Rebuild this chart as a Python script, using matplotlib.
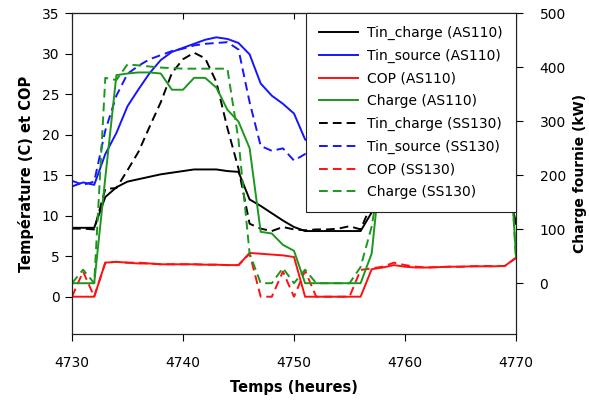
import matplotlib
matplotlib.use('Agg')
import matplotlib.pyplot as plt
import numpy as np

# hourly data, 4730 -> 4770
hours = np.arange(4730, 4771)

tin_charge_as110 = [8.5, 8.5, 8.5, 12.3, 13.5, 14.2, 14.5, 14.8, 15.1, 15.3,
                    15.5, 15.7, 15.7, 15.7, 15.5, 15.4, 12.0, 11.2, 10.3, 9.4,
                    8.6, 8.1, 8.1, 8.1, 8.1, 8.1, 8.1, 10.4, 12.8, 13.8,
                    14.3, 14.7, 15.0, 15.2, 15.4, 15.5, 15.6, 15.6, 15.5, 15.3,
                    9.0]
tin_source_as110 = [13.6, 14.1, 13.8, 17.6, 20.2, 23.5, 25.6, 27.6, 29.2, 30.2,
                    30.7, 31.2, 31.7, 32.0, 31.8, 31.3, 29.9, 26.3, 24.8, 23.8,
                    22.6, 19.4, 18.6, 18.2, 17.9, 17.7, 17.6, 19.0, 22.5, 25.5,
                    27.8, 29.5, 30.5, 31.2, 31.6, 31.8, 31.5, 30.5, 28.5, 26.5,
                    25.6]
cop_as110 = [0, 0, 0, 4.2, 4.3, 4.2, 4.1, 4.1, 4.0, 4.0,
             4.0, 4.0, 3.95, 3.95, 3.9, 3.9, 5.4, 5.3, 5.2, 5.1,
             4.9, 0, 0, 0, 0, 0, 0, 3.4, 3.6, 3.9,
             3.7, 3.6, 3.6, 3.65, 3.7, 3.7, 3.75, 3.75, 3.75, 3.8,
             4.8]
charge_as110 = [0, 0, 0, 195, 385, 388, 390, 390, 388, 358,
                358, 380, 380, 362, 321, 299, 250, 95, 92, 71,
                60, 0, 0, 0, 0, 0, 0, 55, 255, 380,
                390, 392, 392, 392, 390, 390, 390, 388, 388, 388,
                50]

tin_charge_ss130 = [8.4, 8.4, 8.3, 13.3, 13.4, 15.6, 17.9, 21.0, 24.0, 27.6,
                    29.3, 30.1, 29.4, 26.5, 20.8, 15.8, 9.0, 8.4, 8.1, 8.6,
                    8.3, 8.2, 8.3, 8.3, 8.4, 8.7, 8.3, 11.5, 13.5, 14.5,
                    17.5, 21.0, 24.5, 27.5, 29.5, 30.0, 28.5, 24.0, 18.5, 14.0,
                    9.0]
tin_source_ss130 = [14.3, 13.8, 14.2, 20.5, 24.8, 27.5, 28.5, 29.3, 29.8, 30.3,
                    30.6, 31.0, 31.2, 31.3, 31.4, 30.5, 24.0, 18.6, 18.0, 18.3,
                    16.8, 17.6, 17.4, 17.2, 17.0, 16.9, 17.0, 19.5, 23.5, 26.5,
                    28.5, 29.8, 30.6, 31.1, 31.3, 31.0, 29.0, 24.0, 19.5, 18.0,
                    17.8]
cop_ss130 = [0, 3.1, 0, 4.2, 4.3, 4.2, 4.2, 4.1, 4.0, 4.0,
             4.0, 4.0, 3.95, 3.95, 3.9, 3.9, 5.3, 0, 0, 3.1,
             0, 3.2, 0, 0, 0, 0, 3.3, 3.5, 3.7, 4.2,
             3.9, 3.7, 3.6, 3.65, 3.7, 3.7, 3.75, 3.8, 3.75, 3.8,
             4.8]
charge_ss130 = [0, 25, 0, 380, 376, 405, 403, 401, 399, 398,
                397, 397, 397, 397, 397, 265, 55, 0, 0, 28,
                0, 25, 0, 0, 0, 0, 30, 105, 230, 390,
                400, 402, 402, 402, 400, 400, 400, 400, 400, 400,
                43]

BLACK = 'black'
BLUE = '#1515ff'
RED = '#ff1010'
GREEN = '#1d961d'
LW = 1.4
DASH = (4.5, 2.6)

fig = plt.figure(figsize=(5.89, 4.05), dpi=100)
ax1 = fig.add_axes([72 / 589, 1 - 334 / 405, 444 / 589, 321 / 405])
ax2 = ax1.twinx()

l1, = ax1.plot(hours, tin_charge_as110, color=BLACK, lw=LW, label='Tin_charge (AS110)')
l2, = ax1.plot(hours, tin_source_as110, color=BLUE, lw=LW, label='Tin_source (AS110)')
l3, = ax1.plot(hours, cop_as110, color=RED, lw=LW, label='COP (AS110)')
l5, = ax1.plot(hours, tin_charge_ss130, color=BLACK, lw=LW, dashes=DASH, label='Tin_charge (SS130)')
l6, = ax1.plot(hours, tin_source_ss130, color=BLUE, lw=LW, dashes=DASH, label='Tin_source (SS130)')
l7, = ax1.plot(hours, cop_ss130, color=RED, lw=LW, dashes=DASH, label='COP (SS130)')
l4, = ax2.plot(hours, charge_as110, color=GREEN, lw=LW, label='Charge (AS110)')
l8, = ax2.plot(hours, charge_ss130, color=GREEN, lw=LW, dashes=DASH, label='Charge (SS130)')

ax1.set_xlim(4730, 4770)
ax1.set_ylim(-4.6, 35)
ax2.set_ylim(-94, 500)
ax1.set_xticks([4730, 4740, 4750, 4760, 4770])
ax1.set_yticks(np.arange(0, 36, 5))
ax2.set_yticks(np.arange(0, 501, 100))

for ax in (ax1, ax2):
    for s in ax.spines.values():
        s.set_linewidth(0.8)
        s.set_color('#222222')

ax1.tick_params(axis='x', direction='out', length=5, width=0.8, labelsize=10, pad=11)
ax1.tick_params(axis='y', direction='out', length=5, width=0.8, labelsize=10, pad=4)
ax2.tick_params(axis='y', direction='out', length=5, width=0.8, labelsize=10, pad=12)

# top ticks point inwards
top = ax1.secondary_xaxis('top')
top.set_xticks([4730, 4740, 4750, 4760, 4770])
top.tick_params(direction='in', length=4, width=0.8, labeltop=False)
top.spines['top'].set_linewidth(0.8)

ax1.set_xlabel('Temps (heures)', fontsize=10.5, fontweight='bold', labelpad=7)
ax1.set_ylabel('Température (C) et COP', fontsize=10.5, fontweight='bold', labelpad=6)
ax2.set_ylabel('Charge fournie (kW)', fontsize=10, fontweight='bold', labelpad=5)

handles = [l1, l2, l3, l4, l5, l6, l7, l8]
leg = ax2.legend(handles=handles, labels=[h.get_label() for h in handles],
                 loc='upper right', bbox_to_anchor=(1, 1), borderaxespad=0,
                 fontsize=10, fancybox=False, framealpha=1, edgecolor='#222222',
                 handlelength=2.8, handletextpad=0.65, labelspacing=0.62,
                 borderpad=0.95)
leg.get_frame().set_linewidth(0.8)
leg.set_zorder(10)

fig.savefig('out.png', dpi=100)
